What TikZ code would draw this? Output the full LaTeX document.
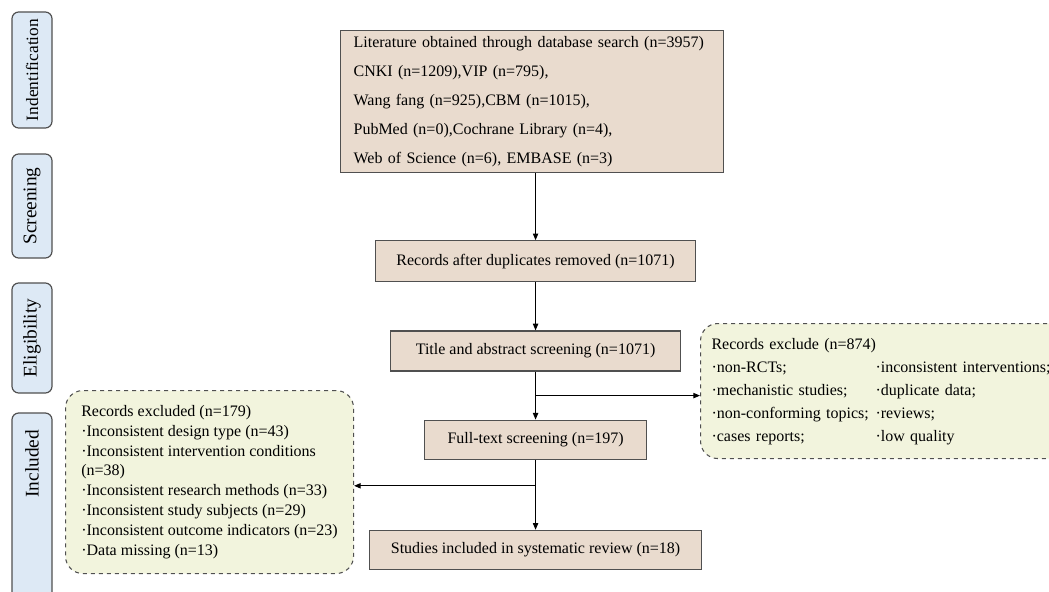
\documentclass[tikz,border=0pt]{standalone}
\usepackage{fontspec}
\setmainfont{Liberation Serif}
\usetikzlibrary{positioning,arrows.meta,calc}
\definecolor{boxfill}{RGB}{233,219,206}
\definecolor{exfill}{RGB}{242,244,221}
\definecolor{phasefill}{RGB}{221,233,245}
\definecolor{edge}{RGB}{80,80,80}
\newcommand{\flowfont}{\fontsize{12}{14.4}\selectfont}
\newcommand{\phasefont}{\fontsize{14.5}{17}\selectfont}
\tikzset{
  stage/.style={rectangle,draw=edge,fill=boxfill,line width=0.9pt,align=center,
    inner sep=0pt,font=\flowfont},
  phase/.style={rectangle,rotate=90,draw=edge,fill=phasefill,line width=0.9pt,
    rounded corners=5pt,minimum height=30pt,inner sep=0pt,font=\phasefont},
  excl/.style={rectangle,draw=edge,fill=exfill,line width=0.8pt,dashed,
    rounded corners=13pt,align=left},
  flow/.style={-{Triangle[length=5pt,width=4pt]},line width=0.8pt},
}
\begin{document}
\begin{tikzpicture}[x=0.75pt,y=-0.75pt]
  \useasboundingbox (0,0) rectangle (1049,592);
  % phases
  \node[phase,minimum width=87pt,font=\fontsize{13}{15}\selectfont] (ident) at (32,70) {Indentification};
  \node[phase,minimum width=78pt] (screen) at (32,206) {Screening};
  \node[phase,minimum width=82.5pt] (elig) at (32,338) {Eligibility};
  \node[phase,inner xsep=12.75pt,text width=144.75pt,align=right] (incl) at (32,526.5) {Included};
  % main column
  \node[stage,align=left,anchor=north west,inner xsep=9.75pt,text width=267.75pt,
    minimum height=106.5pt,font=\fontsize{12}{21.75}\selectfont] (search) at (340,30)
    {Literature obtained through database search (n=3957)\\
     CNKI (n=1209),VIP (n=795),\\
     Wang fang (n=925),CBM (n=1015),\\
     PubMed (n=0),Cochrane Library (n=4),\\
     Web of Science (n=6), EMBASE (n=3)};
  \node[stage,minimum width=240pt,minimum height=30.75pt,below=50.25pt of search,xshift=2.6pt] (dedup)
    {Records after duplicates removed (n=1071)};
  \node[stage,minimum width=217.5pt,minimum height=30pt,below=36pt of dedup] (tiab)
    {Title and abstract screening (n=1071)};
  \node[stage,minimum width=166.5pt,minimum height=29.25pt,below=36pt of tiab] (fulltext)
    {Full-text screening (n=197)};
  \node[stage,minimum width=249pt,minimum height=29.25pt,below=52.5pt of fulltext] (included)
    {Studies included in systematic review (n=18)};
  % exclusions
  \node[excl,anchor=north west,inner xsep=8.25pt,text width=268.5pt,minimum height=101.25pt,
    font=\fontsize{12}{17.25}\selectfont] (exright) at (700,323)
    {\begin{tabular}{@{}p{123pt}@{}l@{}}
     \multicolumn{2}{@{}l@{}}{Records exclude (n=874)}\\
     ·non-RCTs; & ·inconsistent interventions;\\
     ·mechanistic studies; & ·duplicate data;\\
     ·non-conforming topics; & ·reviews;\\
     ·cases reports; & ·low quality
     \end{tabular}};
  \node[excl,anchor=north west,minimum width=216pt,minimum height=137.25pt,
    font=\fontsize{12}{14.85}\selectfont] (exleft) at (65,390)
    {Records excluded (n=179)\\
     ·Inconsistent design type (n=43)\\
     ·Inconsistent intervention conditions\\
     (n=38)\\
     ·Inconsistent research methods (n=33)\\
     ·Inconsistent study subjects (n=29)\\
     ·Inconsistent outcome indicators (n=23)\\
     ·Data missing (n=13)};
  % connectors
  \coordinate (bR) at ($(tiab.south)!0.5!(fulltext.north)$);
  \coordinate (bL) at ($(fulltext.south)+(0,26)$);
  \draw[flow] (search.south -| dedup) -- (dedup);
  \draw[flow] (dedup) -- (tiab);
  \draw[flow] (tiab) -- (fulltext);
  \draw[flow] (bR) -- (bR -| exright.west);
  \draw[flow] (fulltext) -- (fulltext |- included.north);
  \draw[flow] (bL) -- (bL -| exleft.east);
\end{tikzpicture}
\end{document}
